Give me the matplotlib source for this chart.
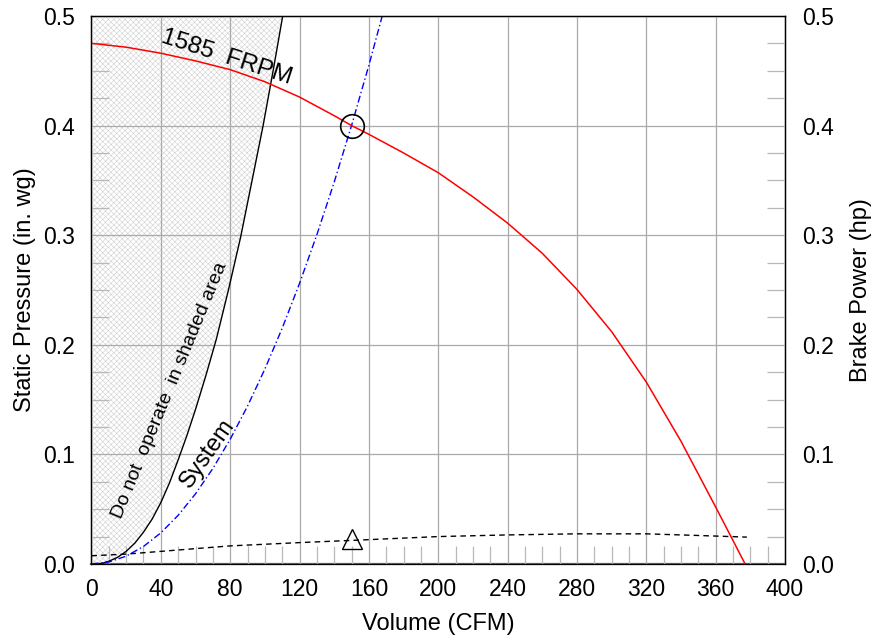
import matplotlib
matplotlib.use("Agg")
import matplotlib.pyplot as plt
from matplotlib.ticker import MultipleLocator, FormatStrFormatter

plt.rcParams['font.family'] = ['Liberation Sans', 'DejaVu Sans']
plt.rcParams['hatch.linewidth'] = 0.4

# fan curve at 1585 RPM
fan_cfm = [0, 20, 40, 60, 80, 100, 120, 140, 150, 160, 180, 200, 220, 240, 260, 280, 300, 320, 340, 360, 377]
fan_sp = [0.475, 0.4715, 0.466, 0.459, 0.451, 0.44, 0.426, 0.409, 0.4, 0.392, 0.375, 0.357,
          0.335, 0.311, 0.2835, 0.2505, 0.212, 0.166, 0.112, 0.052, 0.0]

# system curve
sys_cfm = [0, 10, 20, 30, 40, 50, 60, 70, 80, 90, 100, 110, 120, 130, 140, 150, 160, 167.7]
sys_sp = [0.0, 0.0018, 0.0071, 0.016, 0.0284, 0.0444, 0.064, 0.0871, 0.1138, 0.144, 0.1778,
          0.2151, 0.256, 0.3004, 0.3484, 0.4, 0.455, 0.5]

# "do not operate" boundary
lim_cfm = [2, 6, 10, 15, 20, 25, 30, 35, 40, 45, 50, 55, 60, 66, 72, 79, 86, 92, 99, 105, 110.3]
lim_sp = [0.0, 0.0005, 0.0025, 0.006, 0.0115, 0.019, 0.029, 0.041, 0.056, 0.074, 0.095,
          0.117, 0.141, 0.172, 0.205, 0.25, 0.298, 0.345, 0.4, 0.452, 0.5]

# brake power
bhp_cfm = [0, 20, 40, 60, 80, 100, 120, 150, 200, 240, 280, 320, 350, 378]
bhp_hp = [0.0075, 0.009, 0.0115, 0.014, 0.0165, 0.018, 0.0195, 0.0215, 0.025, 0.0265, 0.0275, 0.0275, 0.026, 0.0245]

op_cfm, op_sp, op_hp = 150, 0.4, 0.0225

fig = plt.figure(figsize=(8.83, 6.43), dpi=100)
ax = fig.add_axes([0.1036, 0.1229, 0.7854, 0.8523])

ax.fill_betweenx(lim_sp, 0, lim_cfm, facecolor='white', edgecolor='#d0d0d0',
                 hatch='xxxxxx', linewidth=0, zorder=1)
ax.fill_between([0, 2], [0.5, 0.5], facecolor='white', edgecolor='#d0d0d0',
                hatch='xxxxxx', linewidth=0, zorder=1)
ax.plot(lim_cfm, lim_sp, color='black', lw=1.0, zorder=3)
ax.plot(sys_cfm, sys_sp, color='blue', lw=1.0, ls=(0, (5, 2, 1, 2)), zorder=3)
ax.plot(fan_cfm, fan_sp, color='red', lw=1.1, zorder=4)
ax.plot(bhp_cfm, bhp_hp, color='black', lw=1.0, ls=(0, (4, 3)), zorder=3)
ax.plot([op_cfm], [op_sp], marker='o', ms=17, mfc='none', mec='black', mew=1.2, zorder=5)
ax.plot([op_cfm], [op_hp], marker='^', ms=14, mfc='none', mec='black', mew=1.0, zorder=5)

ax.text(78, 0.4626, '1585  FRPM', fontsize=17.5, rotation=-18, ha='center', va='center',
        rotation_mode='anchor', zorder=6)
ax.text(45.5, 0.158, 'Do not  operate  in shaded area', fontsize=14, rotation=67.5,
        ha='center', va='center', rotation_mode='anchor', zorder=6)
ax.text(67, 0.101, 'System', fontsize=17, rotation=55, ha='center', va='center',
        rotation_mode='anchor', zorder=6)

ax.set_xlim(0, 400)
ax.set_ylim(0, 0.5)
ax.xaxis.set_major_locator(MultipleLocator(40))
ax.xaxis.set_minor_locator(MultipleLocator(10))
ax.yaxis.set_major_locator(MultipleLocator(0.1))
ax.yaxis.set_minor_locator(MultipleLocator(0.025))
ax.yaxis.set_major_formatter(FormatStrFormatter('%.1f'))
ax.grid(True, which='major', color='#aaaaaa', lw=0.9, zorder=2)
ax.set_axisbelow(False)
ax.tick_params(which='major', length=0, labelsize=16.5)
ax.tick_params(axis='x', which='major', pad=10)
ax.tick_params(axis='y', which='major', pad=12)
ax.tick_params(which='minor', direction='in', length=13, color='#b8b8b8', width=0.9)
ax.tick_params(axis='y', which='minor', left=True, right=True)

ax2 = ax.twinx()
ax2.set_ylim(0, 0.5)
ax2.yaxis.set_major_locator(MultipleLocator(0.1))
ax2.yaxis.set_minor_locator(MultipleLocator(0.025))
ax2.yaxis.set_major_formatter(FormatStrFormatter('%.1f'))
ax2.tick_params(which='major', length=0, labelsize=16.5, pad=12)
ax2.tick_params(which='minor', direction='in', length=13, color='#b8b8b8', width=0.9)
ax2.set_ylabel('Brake Power (hp)', fontsize=17, labelpad=12)

ax.set_xlabel('Volume (CFM)', fontsize=17, labelpad=9)
ax.set_ylabel('Static Pressure (in. wg)', fontsize=17, labelpad=5)
for s in ax.spines.values():
    s.set_linewidth(1.0)
ax.spines['bottom'].set_color('#555555')
ax.spines['bottom'].set_linewidth(1.6)

fig.savefig('out.png', dpi=100)
